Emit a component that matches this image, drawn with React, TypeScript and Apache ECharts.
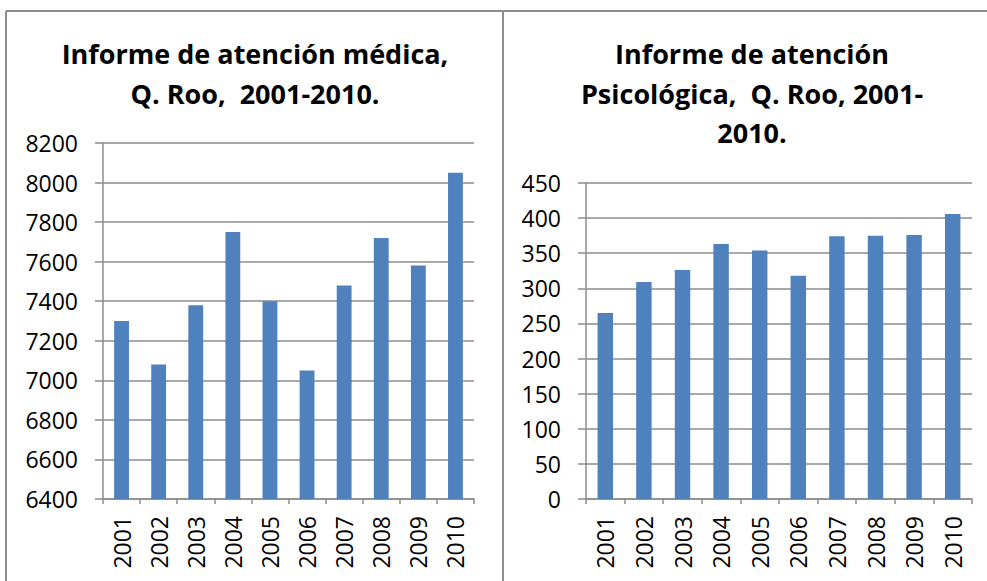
import React, { useEffect, useRef } from "react";
import * as echarts from "echarts";

const years = ["2001", "2002", "2003", "2004", "2005", "2006", "2007", "2008", "2009", "2010"];
const medica = [7300, 7080, 7380, 7750, 7400, 7050, 7480, 7720, 7580, 8050];
const psicologica = [265, 309, 326, 363, 354, 318, 374, 375, 376, 406];
const titleMedica = "Informe de atención médica,\nQ. Roo,  2001-2010.";
const titlePsico = "Informe de atención\nPsicológica,  Q. Roo, 2001-\n2010.";

const FONT = "'Open Sans', 'Noto Sans', sans-serif";
const GRAY = "#8c8c8c";
const BAR = "#4f81bd";

function axisPair(gridIndex: number, min: number, max: number, interval: number) {
  const x = {
    type: "category",
    gridIndex,
    data: years,
    axisLine: { show: true, lineStyle: { color: GRAY, width: 1.5 } },
    axisTick: { show: true, alignWithLabel: false, length: 5, lineStyle: { color: GRAY, width: 1.5 } },
    axisLabel: { rotate: 90, margin: 17, color: "#000", fontFamily: FONT, fontSize: 23 },
    splitLine: { show: false },
  };
  const y = {
    type: "value",
    gridIndex,
    min,
    max,
    interval,
    axisLine: { show: true, lineStyle: { color: GRAY, width: 1.5 } },
    axisTick: { show: true, length: 8, lineStyle: { color: GRAY, width: 1.5 } },
    axisLabel: {
      margin: 25,
      color: "#000",
      fontFamily: FONT,
      fontSize: 23,
      formatter: (v: number) => String(v),
    },
    splitLine: { show: true, lineStyle: { color: GRAY, width: 1.5 } },
  };
  return { x, y };
}

export default function App() {
  const ref = useRef<HTMLDivElement>(null);
  useEffect(() => {
    if (!ref.current) return;
    const chart = echarts.init(ref.current, undefined, { renderer: "svg" });
    const a = axisPair(0, 6400, 8200, 200);
    const b = axisPair(1, 0, 450, 50);
    const titleStyle = { fontFamily: FONT, fontWeight: "bold", fontSize: 27, color: "#000", lineHeight: 39.5 };
    chart.setOption({
      animation: false,
      backgroundColor: "#fff",
      title: [
        { text: titleMedica, left: 255, top: 34, textAlign: "center", textStyle: titleStyle, padding: 0 },
        { text: titlePsico, left: 752, top: 34, textAlign: "center", textStyle: titleStyle, padding: 0 },
      ],
      grid: [
        { left: 103, right: 513, top: 143, bottom: 82 },
        { left: 586, right: 15, top: 183, bottom: 82 },
      ],
      xAxis: [a.x, b.x],
      yAxis: [a.y, b.y],
      series: [
        { type: "bar", xAxisIndex: 0, yAxisIndex: 0, data: medica, barWidth: "40%", itemStyle: { color: BAR } },
        { type: "bar", xAxisIndex: 1, yAxisIndex: 1, data: psicologica, barWidth: "40%", itemStyle: { color: BAR } },
      ],
      graphic: [
        { type: "line", shape: { x1: 6, y1: 11, x2: 987, y2: 11 }, style: { stroke: "#8e8e8e", lineWidth: 2 } },
        { type: "line", shape: { x1: 6, y1: 11, x2: 6, y2: 581 }, style: { stroke: "#8e8e8e", lineWidth: 2 } },
        { type: "line", shape: { x1: 503, y1: 11, x2: 503, y2: 581 }, style: { stroke: "#8e8e8e", lineWidth: 2 } },
      ],
    });
    return () => chart.dispose();
  }, []);
  return <div ref={ref} style={{ position: "fixed", left: 0, top: 0, width: 987, height: 581 }} />;
}
